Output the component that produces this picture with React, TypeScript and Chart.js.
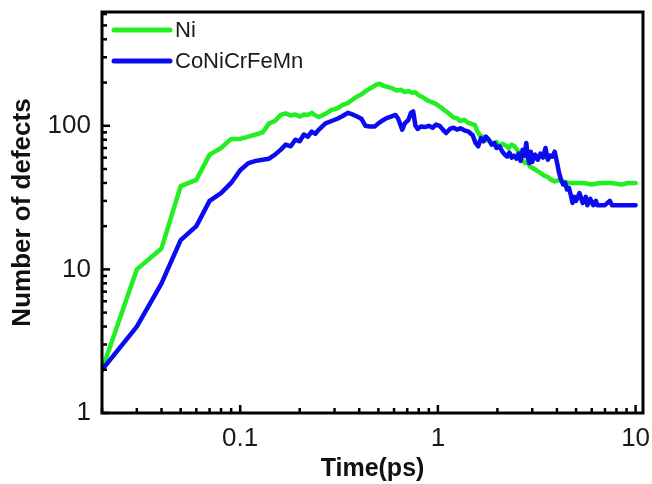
import { useEffect, useRef } from "react";
import { Chart, registerables } from "chart.js";

Chart.register(...registerables);

const seriesLabels = ["Ni", "CoNiCrFeMn"];
const seriesColors = ["#22ee22", "#0b0bf0"];

const niTime = [
  0.02, 0.03, 0.04, 0.05, 0.06, 0.07, 0.08, 0.09, 0.1, 0.11, 0.12, 0.13, 0.14, 0.15, 0.16, 0.17, 0.18, 0.19,
  0.2, 0.21, 0.22, 0.23, 0.24, 0.25, 0.27, 0.29, 0.31, 0.33, 0.35, 0.37, 0.39, 0.41, 0.43, 0.45, 0.47, 0.49,
  0.51, 0.53, 0.56, 0.59, 0.62, 0.65, 0.68, 0.71, 0.74, 0.77, 0.8, 0.84, 0.88, 0.92, 0.96, 1.0, 1.04, 1.08,
  1.12, 1.16, 1.2, 1.25, 1.3, 1.36, 1.42, 1.48, 1.54, 1.58, 1.63, 1.68, 1.74, 1.8, 1.86, 1.92, 1.98, 2.05,
  2.12, 2.2, 2.28, 2.36, 2.44, 2.52, 2.6, 2.68, 2.76, 2.84, 2.92, 3.0, 3.15, 3.3, 3.45, 3.6, 3.75, 3.9, 4.1,
  4.3, 4.6, 5.5, 6.0, 6.6, 7.5, 8.5, 9.2, 10.0,
];
const niCount = [
  2, 10, 14, 38, 42, 63, 70, 81, 81, 84, 87, 90, 104, 108, 119, 122, 118, 120,
  116, 120, 119, 123, 118, 115, 121, 129, 132, 140, 144, 152, 160, 165, 174, 181, 187, 194,
  196, 190, 186, 182, 176, 178, 172, 175, 170, 171, 163, 158, 151, 147, 144, 139, 134, 128,
  124, 119, 114, 113, 108, 110, 105, 103, 101, 92, 86, 84, 79, 80, 76, 74, 77, 72,
  75, 73, 70, 74, 72, 68, 62, 58, 55, 56, 52, 51, 49, 47, 45, 44, 42, 41, 42,
  41, 40, 40, 39, 40, 40, 39, 40, 40,
];

const heaTime = [
  0.02, 0.03, 0.04, 0.05, 0.06, 0.07, 0.08, 0.09, 0.1, 0.11, 0.12, 0.13, 0.14, 0.15, 0.16, 0.17, 0.18, 0.19,
  0.2, 0.21, 0.22, 0.23, 0.24, 0.25, 0.27, 0.29, 0.31, 0.33, 0.35, 0.37, 0.39, 0.41, 0.43, 0.45, 0.48, 0.5,
  0.52, 0.55, 0.58, 0.61, 0.63, 0.66, 0.68, 0.71, 0.73, 0.75, 0.77, 0.79, 0.82, 0.86, 0.9, 0.94, 0.98, 1.02,
  1.06, 1.1, 1.15, 1.2, 1.25, 1.3, 1.36, 1.43, 1.5, 1.55, 1.6, 1.65, 1.7, 1.75, 1.81, 1.87, 1.93, 1.98,
  2.05, 2.12, 2.18, 2.24, 2.3, 2.36, 2.42, 2.5, 2.56, 2.62, 2.68, 2.74, 2.8, 2.85, 2.9, 2.95, 3.0, 3.1,
  3.2, 3.3, 3.4, 3.5, 3.6, 3.7, 3.8, 3.9, 4.0, 4.1, 4.2, 4.3, 4.4, 4.5, 4.6, 4.7, 4.8, 4.9, 5.0, 5.2,
  5.4, 5.6, 5.7, 5.9, 6.1, 6.3, 6.4, 7.0, 7.4, 7.6, 10.0,
];
const heaCount = [
  2, 4, 8, 16, 20, 30, 34, 40, 49, 55, 57, 58, 59, 63, 68, 74, 72, 80,
  78, 87, 84, 91, 88, 94, 104, 108, 112, 117, 123, 120, 116, 112, 100, 99, 99, 104,
  108, 113, 116, 119, 112, 94, 104, 110, 123, 126, 100, 95, 99, 98, 100, 97, 102, 100,
  94, 89, 95, 97, 94, 96, 93, 91, 86, 76, 72, 82, 78, 84, 80, 74, 76, 70,
  72, 66, 63, 61, 65, 60, 62, 59, 64, 57, 68, 62, 76, 60, 55, 66, 56, 63,
  58, 64, 60, 70, 58, 62, 61, 66, 56, 47, 42, 39, 40, 36, 37, 33, 29, 32, 30, 34,
  29, 32, 28, 31, 28, 30, 28, 28, 30, 28, 28,
];

const xTickValues = [0.1, 1, 10];
const yTickValues = [1, 10, 100];
const xLabel = "Time(ps)";
const yLabel = "Number of defects";

const FONT = "'Liberation Sans', Arial, Helvetica, sans-serif";

const framePlugin = {
  id: "frameAndTicks",
  afterDraw(chart: any) {
    const ctx = chart.ctx;
    const { left, right, top, bottom } = chart.chartArea;
    const xs = chart.scales.x;
    const ys = chart.scales.y;
    ctx.save();
    ctx.strokeStyle = "#000";
    ctx.lineWidth = 2.5;
    ctx.lineCap = "butt";
    for (let e = -3; e <= 2; e++) {
      for (let m = 1; m <= 9; m++) {
        const v = m * Math.pow(10, e);
        if (v >= xs.min * 0.999 && v <= xs.max) {
          const px = xs.getPixelForValue(v);
          const len = m === 1 ? 8 : 5;
          ctx.beginPath();
          ctx.moveTo(px, bottom);
          ctx.lineTo(px, bottom - len);
          ctx.stroke();
        }
        if (v >= ys.min * 0.999 && v <= ys.max) {
          const py = ys.getPixelForValue(v);
          const len = m === 1 ? 8 : 5;
          ctx.beginPath();
          ctx.moveTo(left, py);
          ctx.lineTo(left + len, py);
          ctx.stroke();
        }
      }
    }
    ctx.lineWidth = 3;
    ctx.strokeRect(left, top, right - left, bottom - top);

    // legend
    const items = chart.data.datasets;
    const rows = [30, 61];
    items.forEach((ds: any, i: number) => {
      const y = rows[i];
      ctx.strokeStyle = ds.borderColor;
      ctx.lineWidth = 5;
      ctx.lineCap = "round";
      ctx.beginPath();
      ctx.moveTo(left + 12, y);
      ctx.lineTo(left + 68, y);
      ctx.stroke();
      ctx.fillStyle = "#1a1a1a";
      ctx.font = `22px ${FONT}`;
      ctx.textBaseline = "middle";
      ctx.textAlign = "left";
      ctx.fillText(ds.label, left + 73, y + 1);
    });
    ctx.restore();
  },
};

export default function App() {
  const ref = useRef<HTMLCanvasElement | null>(null);

  useEffect(() => {
    if (!ref.current) return;
    const chart = new Chart(ref.current, {
      type: "line",
      data: {
        datasets: [
          {
            label: seriesLabels[0],
            data: niTime.map((t, i) => ({ x: t, y: niCount[i] })),
            borderColor: seriesColors[0],
            backgroundColor: seriesColors[0],
            borderWidth: 4.5,
            pointRadius: 0,
            tension: 0,
            borderJoinStyle: "round",
            borderCapStyle: "round",
            order: 1,
          },
          {
            label: seriesLabels[1],
            data: heaTime.map((t, i) => ({ x: t, y: heaCount[i] })),
            borderColor: seriesColors[1],
            backgroundColor: seriesColors[1],
            borderWidth: 4.5,
            pointRadius: 0,
            tension: 0,
            borderJoinStyle: "round",
            borderCapStyle: "round",
            order: 0,
          },
        ],
      },
      options: {
        animation: false,
        responsive: true,
        maintainAspectRatio: false,
        layout: { padding: { left: 0, right: 9, top: 12, bottom: 0 } },
        plugins: {
          legend: { display: false },
          tooltip: { enabled: false },
        },
        scales: {
          x: {
            type: "logarithmic",
            min: 0.02,
            max: 10.9,
            grid: { display: false, drawTicks: false },
            border: { display: false },
            afterBuildTicks: (scale: any) => {
              scale.ticks = xTickValues.map((v) => ({ value: v }));
            },
            afterFit: (scale: any) => {
              scale.height = 71;
              scale.paddingLeft = 0;
              scale.paddingRight = 0;
            },
            ticks: {
              autoSkip: false,
              maxRotation: 0,
              padding: 10,
              color: "#1a1a1a",
              font: { family: FONT, size: 26 },
              callback: (v: any) => String(v),
            },
            title: {
              display: true,
              text: xLabel,
              color: "#111",
              font: { family: FONT, size: 25, weight: "bold" },
              padding: { top: 0, bottom: 0 },
            },
          },
          y: {
            type: "logarithmic",
            min: 1,
            max: 620,
            grid: { display: false, drawTicks: false },
            border: { display: false },
            afterBuildTicks: (scale: any) => {
              scale.ticks = yTickValues.map((v) => ({ value: v }));
            },
            afterFit: (scale: any) => {
              scale.width = 102;
              scale.paddingTop = 0;
              scale.paddingBottom = 0;
            },
            ticks: {
              autoSkip: false,
              padding: 11,
              color: "#1a1a1a",
              font: { family: FONT, size: 26 },
              callback: (v: any) => String(v),
            },
            title: {
              display: true,
              text: yLabel,
              color: "#111",
              font: { family: FONT, size: 26, weight: "bold" },
              padding: { top: 7, bottom: 0 },
            },
          },
        },
      },
      plugins: [framePlugin],
    });
    return () => chart.destroy();
  }, []);

  return (
    <div style={{ position: "fixed", left: 0, top: 0, width: 652, height: 484, background: "#fff" }}>
      <canvas ref={ref} />
    </div>
  );
}
